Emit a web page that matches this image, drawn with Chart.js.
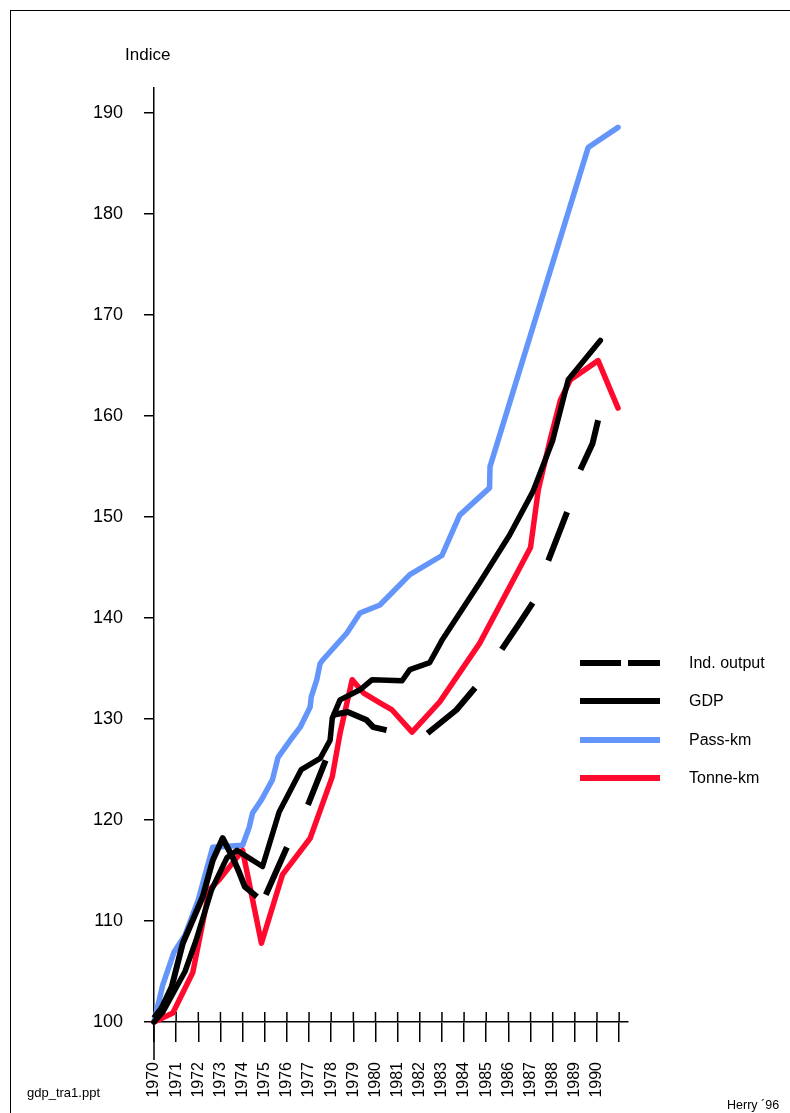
<!DOCTYPE html>
<html>
<head>
<meta charset="utf-8">
<script src="https://cdn.jsdelivr.net/npm/chart.js@4"></script>
<style>
  body { margin: 0; background: #fff; }
  #wrap { position: relative; width: 790px; height: 1113px; overflow: hidden; font-family: "Liberation Sans", Arial, sans-serif; color: #000; }
  #frame { position: absolute; left: 10px; top: 10px; width: 800px; height: 1200px; border-left: 1px solid #000; border-top: 1px solid #000; }
  canvas { position: absolute; left: 0; top: 0; }
  .txt { position: absolute; white-space: nowrap; }
  .leg { position: absolute; left: 580px; width: 80px; height: 6px; }
  .legtxt { position: absolute; left: 689px; font-size: 16px; line-height: 16px; }
</style>
</head>
<body>
<div id="wrap">
  <div id="frame"></div>
  <canvas id="chart" width="790" height="1113"></canvas>
  <div class="txt" style="left:125px; top:45px; font-size:17px;">Indice</div>
  <div class="txt" style="left:27px; top:1085px; font-size:13px;">gdp_tra1.ppt</div>
  <div class="txt" style="left:727px; top:1098px; font-size:12.5px;">Herry ´96</div>

  <div class="leg" style="top:660px;">
    <div style="position:absolute; left:0; width:41px; height:6px; background:#000;"></div>
    <div style="position:absolute; left:48px; width:32px; height:6px; background:#000;"></div>
  </div>
  <div class="legtxt" style="top:655px;">Ind. output</div>
  <div class="leg" style="top:698px; background:#000;"></div>
  <div class="legtxt" style="top:693px;">GDP</div>
  <div class="leg" style="top:737px; background:#6495fa;"></div>
  <div class="legtxt" style="top:732px;">Pass-km</div>
  <div class="leg" style="top:775px; background:#ff0a2e;"></div>
  <div class="legtxt" style="top:770px;">Tonne-km</div>
</div>
<script>
// tick labels
const xTicks = [1970, 1971, 1972, 1973, 1974, 1975, 1976, 1977, 1978, 1979, 1980,
  1981, 1982, 1983, 1984, 1985, 1986, 1987, 1988, 1989, 1990, 1991];
const yTicks = [100, 110, 120, 130, 140, 150, 160, 170, 180, 190];

// Ind. output (null = break between dashes)
const indYears = [1970.0, 1970.35, 1970.8, 1971.3, 1971.75, 1972.2, 1972.65, 1973.1, 1973.55, 1973.85, 1974.1, 1974.65,
  1974.8, 1975.05, 1976.0, 1976.5, 1976.95, 1977.75, 1977.9, 1978.05, 1978.75, 1979.6, 1979.9, 1980.5,
  1981.0, 1982.35, 1983.65, 1984.5, 1985.0, 1985.7, 1986.5, 1987.1, 1987.4, 1987.8, 1988.65, 1989.0,
  1989.25, 1989.8, 1990.05];
const indValues = [100.4, 101.4, 103.5, 107.8, 110.1, 112.4, 116.0, 118.2, 116.3, 114.8, 113.4, 112.4,
  null, 112.6, 117.3, null, 121.5, 125.9, null, 130.4, 130.7, 129.9, 129.2, 128.9,
  null, 128.6, 130.9, 133.1, null, 136.9, 139.5, 141.5, null, 145.7, 150.5, null,
  154.7, 157.3, 159.6];

// GDP
const gdpYears = [1970.0, 1970.4, 1971.4, 1971.9, 1972.6, 1973.3, 1973.75, 1974.9, 1975.65, 1976.65, 1977.5, 1977.95,
  1978.05, 1978.4, 1979.3, 1979.85, 1981.2, 1981.55, 1982.45, 1983.0, 1984.7, 1986.05, 1987.1, 1988.0, 1988.7, 1990.15];
const gdpValues = [100.0, 101.0, 105.0, 108.1, 113.1, 116.3, 117.0, 115.4, 120.8, 125.0, 126.1, 127.9,
  130.1, 131.9, 132.9, 133.9, 133.8, 134.9, 135.6, 137.8, 143.5, 148.2, 152.5, 157.6, 163.6, 167.5];

// Pass-km
const passYears = [1970.0, 1970.4, 1970.9, 1971.4, 1972.0, 1972.65, 1974.0, 1974.3, 1974.45, 1974.85, 1975.35, 1975.6,
  1976.15, 1976.6, 1977.05, 1977.1, 1977.35, 1977.5, 1977.6, 1978.7, 1979.3, 1980.2, 1981.55, 1983.0, 1983.8,
  1985.15, 1985.17, 1989.6, 1990.95];
const passValues = [100.0, 103.7, 106.9, 108.6, 112.1, 117.3, 117.5, 119.3, 120.7, 122.0, 124.0, 126.2,
  127.9, 129.2, 131.2, 132.2, 133.9, 135.5, 135.8, 138.5, 140.5, 141.3, 144.3, 146.2, 150.2,
  152.9, 155.0, 186.6, 188.6];

// Tonne-km
const tonneYears = [1970.0, 1970.85, 1971.75, 1972.5, 1972.95, 1974.0, 1974.85, 1975.8, 1977.05, 1978.05, 1978.4, 1978.95,
  1979.45, 1980.2, 1980.75, 1981.65, 1982.9, 1984.7, 1987.0, 1987.35, 1987.9, 1988.35, 1988.8, 1990.05, 1990.95];
const tonneValues = [100.0, 100.9, 104.9, 113.1, 114.1, 117.0, 107.8, 114.6, 118.2, 124.3, 128.6, 133.9,
  132.6, 131.6, 130.9, 128.7, 131.7, 137.5, 147.0, 152.7, 157.8, 161.6, 163.6, 165.5, 160.8];

const FONT = '"Liberation Sans", Arial, sans-serif';

function pts(xs, ys) {
  return xs.map((x, i) => ({ x: x, y: ys[i] }));
}

// tick marks that cross the x axis, and the y axis running below it
const crossTicks = {
  id: 'crossTicks',
  beforeDatasetsDraw(chart) {
    const { ctx, chartArea, scales } = chart;
    ctx.save();
    ctx.strokeStyle = '#000';
    ctx.lineWidth = 1.5;
    ctx.beginPath();
    scales.x.ticks.forEach(t => {
      const px = scales.x.getPixelForValue(t.value);
      ctx.moveTo(px, chartArea.bottom - 10);
      ctx.lineTo(px, chartArea.bottom);
    });
    ctx.moveTo(chartArea.left, chartArea.bottom);
    ctx.lineTo(chartArea.left, chartArea.bottom + 38);
    ctx.stroke();
    ctx.restore();
  }
};

const ctx = document.getElementById('chart').getContext('2d');
new Chart(ctx, {
  type: 'line',
  data: {
    datasets: [
      {
        label: 'Ind. output',
        data: pts(indYears, indValues),
        borderColor: '#000',
        borderWidth: 6,
        borderCapStyle: 'butt',
        spanGaps: false,
        clip: false
      },
      {
        label: 'GDP',
        data: pts(gdpYears, gdpValues),
        borderColor: '#000',
        borderWidth: 5.5,
        borderCapStyle: 'round',
        clip: false
      },
      {
        label: 'Tonne-km',
        data: pts(tonneYears, tonneValues),
        borderColor: '#ff0a2e',
        borderWidth: 5.5,
        borderCapStyle: 'round',
        clip: false
      },
      {
        label: 'Pass-km',
        data: pts(passYears, passValues),
        borderColor: '#6495fa',
        borderWidth: 5.5,
        borderCapStyle: 'round',
        clip: false
      }
    ]
  },
  options: {
    responsive: false,
    animation: false,
    devicePixelRatio: 1,
    layout: { padding: { top: 88, right: 162, left: 0, bottom: 0 } },
    elements: {
      point: { radius: 0 },
      line: { tension: 0, borderJoinStyle: 'round' }
    },
    plugins: {
      legend: { display: false },
      tooltip: { enabled: false }
    },
    scales: {
      x: {
        type: 'linear',
        min: 1970,
        max: 1991.4,
        afterBuildTicks: s => { s.ticks = xTicks.map(v => ({ value: v })); },
        afterFit: s => { s.height = 91; },
        grid: { drawOnChartArea: false, tickLength: 20, color: '#000', lineWidth: 1.5 },
        border: { color: '#000', width: 1.5 },
        ticks: {
          minRotation: 90,
          maxRotation: 90,
          autoSkip: false,
          padding: 20,
          color: '#000',
          font: { family: FONT, size: 16 },
          callback: v => (v <= 1990 ? String(v) : '')
        }
      },
      y: {
        type: 'linear',
        min: 100,
        max: 192.5,
        afterBuildTicks: s => { s.ticks = yTicks.map(v => ({ value: v })); },
        afterFit: s => { s.width = 154; },
        grid: { drawOnChartArea: false, tickLength: 10, color: '#000', lineWidth: 1.5 },
        border: { color: '#000', width: 1.5 },
        ticks: {
          padding: 21,
          color: '#000',
          font: { family: FONT, size: 18 },
          callback: v => String(v)
        }
      }
    }
  },
  plugins: [crossTicks]
});
</script>
</body>
</html>
